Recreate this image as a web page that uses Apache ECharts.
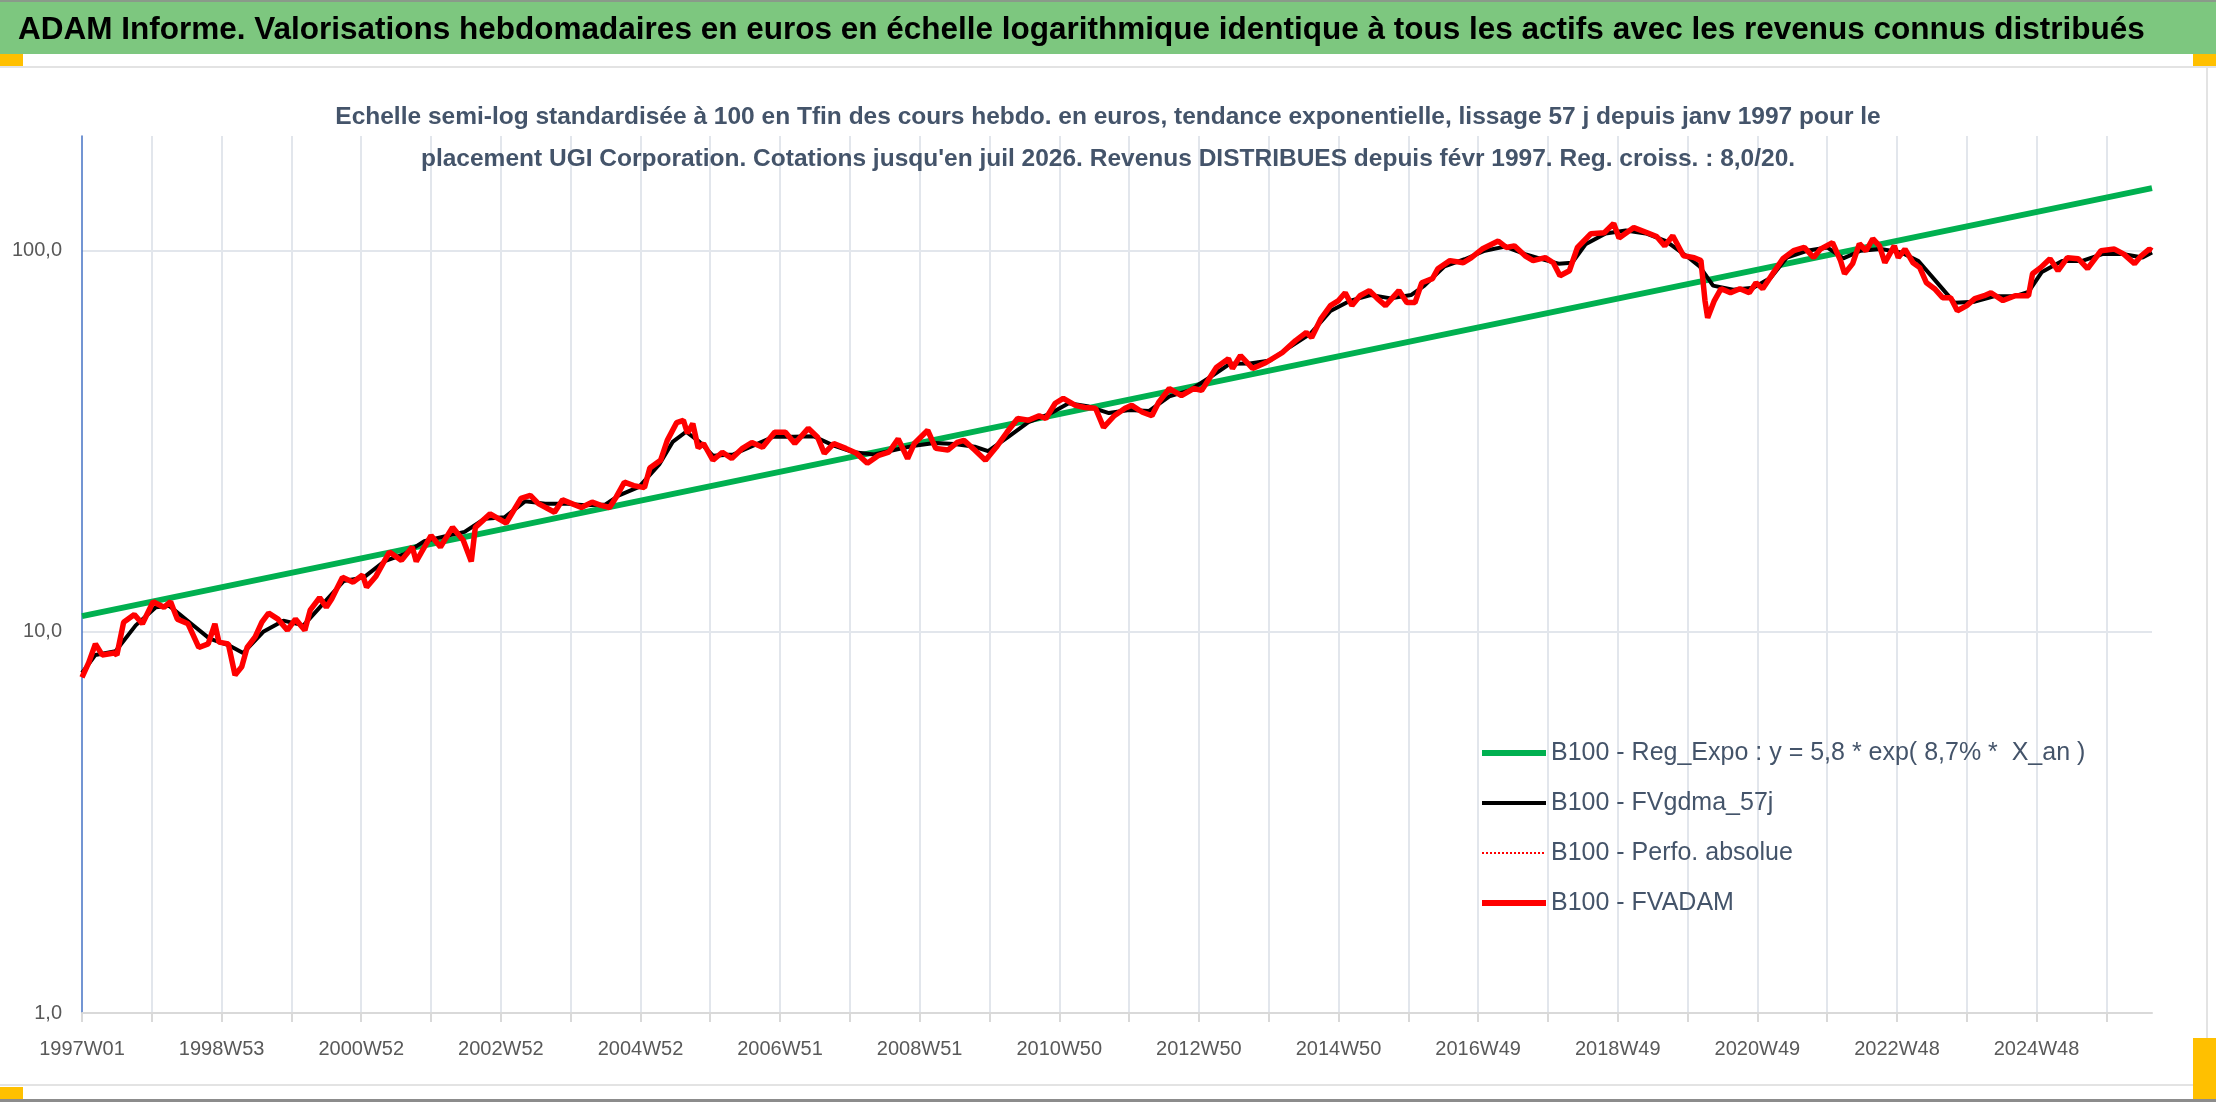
<!DOCTYPE html>
<html>
<head>
<meta charset="utf-8">
<script src="https://cdn.jsdelivr.net/npm/echarts@6/dist/echarts.min.js"></script>
<style>
html,body{margin:0;padding:0;background:#fff;}
#main{width:2216px;height:1102px;}
</style>
</head>
<body>
<div id="main"></div>
<script>
// semaines ISO de 53 semaines entre 1997 et 2026
var longYears = [1998, 2004, 2009, 2015, 2020, 2026];
var firstYear = 1997;
var nbWeeks = 1543; // 1997W01 -> 2026W30

var titleText = 'ADAM Informe. Valorisations hebdomadaires en euros en échelle logarithmique identique à tous les actifs avec les revenus connus distribués';
var subText = "Echelle semi-log standardisée à 100 en Tfin des cours hebdo. en euros, tendance exponentielle, lissage 57 j depuis janv 1997 pour le\nplacement UGI Corporation. Cotations jusqu'en juil 2026. Revenus DISTRIBUES depuis févr 1997. Reg. croiss. : 8,0/20.";

var legendNames = [
	'B100 - Reg_Expo : y = 5,8 * exp( 8,7% *  X_an )',
	'B100 - FVgdma_57j',
	'B100 - Perfo. absolue',
	'B100 - FVADAM'
];

// droite de regression (exponentielle) : deux extremites
var regExpo = [[0, 11.0], [1542, 146]];

// FVADAM : [index semaine, valeur base 100]
var fvadam = [
	[0,7.6],[5,8.3],[10,9.3],[15,8.7],[24,8.8],[26,8.7],[31,10.6],[39,11.1],[45,10.5],[53,12.0],
	[61,11.6],[66,12.0],[71,10.8],[79,10.5],[87,9.1],[94,9.3],[99,10.5],[102,9.4],[109,9.3],[114,7.7],
	[119,8.1],[123,9.1],[129,9.7],[134,10.6],[139,11.2],[146,10.8],[153,10.1],[159,10.8],[166,10.1],[170,11.4],
	[177,12.3],[182,11.6],[186,12.2],[194,13.9],[202,13.5],[209,14.1],[212,13.1],[219,14.0],[229,16.2],[238,15.4],
	[246,16.7],[249,15.3],[260,17.9],[267,16.7],[276,18.8],[284,17.4],[290,15.3],[293,18.8],[304,20.4],[316,19.3],
	[327,22.4],[334,22.8],[340,21.7],[352,20.6],[358,22.2],[372,21.2],[380,21.9],[386,21.5],[393,21.2],[398,22.6],
	[404,24.7],[411,24.2],[419,23.9],[423,26.9],[431,28.2],[436,31.8],[443,35.4],[448,35.9],[451,33.2],[455,35.2],
	[459,30.4],[463,31.2],[470,28.2],[477,29.6],[484,28.5],[492,30.3],[499,31.4],[507,30.5],[516,33.4],[524,33.4],
	[531,31.2],[541,34.2],[548,32.4],[553,29.4],[560,31.2],[569,30.3],[577,29.4],[585,27.7],[593,29.0],[601,29.6],
	[608,32.1],[615,28.5],[620,31.2],[630,33.8],[636,30.3],[645,30.0],[652,31.4],[657,31.8],[665,30.0],[673,28.2],
	[681,30.5],[689,33.4],[697,36.3],[705,35.9],[713,36.9],[718,36.3],[725,39.8],[731,41.0],[740,39.3],[747,38.8],
	[755,38.6],[761,34.4],[769,36.9],[777,38.6],[782,39.3],[790,37.7],[797,36.9],[802,40.0],[810,43.5],[819,41.7],
	[828,43.5],[834,43.0],[845,49.4],[854,52.1],[857,49.1],[863,53.1],[872,49.1],[882,50.9],[894,54.0],[904,58.1],
	[912,61.0],[916,59.2],[923,66.4],[930,71.8],[936,74.0],[941,77.6],[946,71.8],[952,76.2],[959,78.6],[965,74.9],
	[971,71.8],[981,78.6],[987,73.1],[993,73.1],[998,82.4],[1006,84.5],[1010,89.7],[1019,94.2],[1029,93.0],[1035,95.9],
	[1043,101],[1055,106],[1061,102],[1067,103],[1075,97],[1081,94.2],[1090,95.9],[1096,93.0],[1101,86.0],[1108,88.6],
	[1114,102],[1124,110.8],[1134,111.5],[1141,118],[1145,108],[1156,115],[1166,111.5],[1173,109],[1179,103],[1185,109.5],
	[1193,97],[1201,95.9],[1206,94.2],[1209,74],[1211,66.7],[1216,74],[1221,79.5],[1228,77.6],[1235,79.5],[1242,77.6],
	[1247,82.4],[1252,79.5],[1260,87.6],[1267,95.3],[1275,100],[1283,102],[1290,95.9],[1295,101],[1304,105],[1310,94.2],
	[1313,87],[1319,92.5],[1324,104.3],[1329,100],[1334,107.5],[1339,103],[1343,93],[1350,103],[1353,95.9],[1358,101],
	[1364,93],[1369,90.3],[1374,82.4],[1380,79.5],[1386,75.3],[1392,75.3],[1397,69.6],[1404,71.8],[1410,74.9],[1417,76.2],
	[1422,77.6],[1431,74],[1440,76.2],[1450,76.2],[1453,87],[1459,90.3],[1466,95.3],[1472,88.6],[1479,95.9],[1487,95.3],
	[1494,89.7],[1504,100],[1514,101],[1521,98],[1529,92.5],[1534,97],[1540,101],[1542,100]
];

// moyenne mobile lissee 57 j
var fvgdma = [
	[0,7.8],[10,8.7],[25,8.9],[40,10.4],[55,11.6],[65,11.7],[80,10.6],[95,9.6],[110,9.2],[120,8.8],
	[135,10.0],[150,10.7],[165,10.4],[180,11.9],[195,13.6],[210,13.9],[225,15.3],[240,16.0],[255,17.3],[270,17.8],
	[285,18.3],[300,19.8],[315,20.0],[330,22.0],[345,21.7],[360,21.7],[375,21.5],[390,21.6],[400,22.8],[415,24.0],
	[430,27.5],[440,31.5],[450,33.5],[460,31.5],[470,29.0],[485,29.2],[500,30.8],[515,32.5],[530,32.5],[545,32.6],
	[560,30.8],[575,29.6],[590,29.2],[605,30.0],[620,30.8],[635,31.3],[650,31.1],[665,30.6],[675,29.8],[690,32.5],
	[705,35.5],[720,37.2],[735,39.8],[750,39.0],[765,37.5],[780,38.2],[795,38.0],[810,41.5],[825,43.0],[840,46.5],
	[855,50.5],[870,50.6],[885,51.5],[900,56.0],[915,60.5],[930,69.5],[945,74.0],[960,76.5],[975,75.0],[990,76.5],
	[1000,81],[1015,91],[1030,95],[1045,100],[1060,102.5],[1075,98],[1090,94.5],[1100,92.5],[1110,93],[1120,104],
	[1135,111],[1150,113],[1165,111],[1180,106],[1195,97],[1205,91],[1215,81],[1230,79],[1245,80],[1258,85],
	[1270,96],[1285,100],[1300,102],[1312,95.5],[1325,100],[1340,101],[1355,99],[1368,94],[1380,84],[1395,73],
	[1410,73.5],[1425,76],[1440,76],[1450,78],[1460,88],[1475,94],[1490,94],[1505,98],[1520,98],[1535,96],[1542,99]
];

function buildWeeks(){
	var weeks = [];
	var y = firstYear;
	while (weeks.length < nbWeeks){
		var n = longYears.indexOf(y) >= 0 ? 53 : 52;
		for (var w = 1; w <= n && weeks.length < nbWeeks; w++){
			weeks.push(y + 'W' + (w < 10 ? '0' + w : w));
		}
		y++;
	}
	return weeks;
}

function createOption(){
	var weeks = buildWeeks();
	var txtColor = '#44546A';
	var font = 'Liberation Sans';
	var colors = ['#00B050', '#000000', '#FF0000', '#FF0000'];
	var widths = [6, 4, 2, 6];
	return {
		animation: false,
		backgroundColor: '#ffffff',
		graphic: [
			{ type: 'rect', shape: { x: 0, y: 0, width: 2216, height: 54 }, style: { fill: '#7DC77F' }, z: -10 },
			{ type: 'rect', shape: { x: 0, y: 0, width: 2216, height: 2 }, style: { fill: '#8A9A8A' }, z: -9 },
			{ type: 'rect', shape: { x: 0, y: 66, width: 2216, height: 2 }, style: { fill: '#E3E3E3' }, z: -9 },
			{ type: 'rect', shape: { x: 0, y: 1084, width: 2216, height: 2 }, style: { fill: '#E3E3E3' }, z: -9 },
			{ type: 'rect', shape: { x: 2206, y: 66, width: 2, height: 1020 }, style: { fill: '#E3E3E3' }, z: -9 },
			{ type: 'rect', shape: { x: 0, y: 1099, width: 2216, height: 3 }, style: { fill: '#8C8C8C' }, z: -9 },
			{ type: 'rect', shape: { x: 0, y: 54, width: 23, height: 12 }, style: { fill: '#FFC000' }, z: -8 },
			{ type: 'rect', shape: { x: 2193, y: 54, width: 23, height: 12 }, style: { fill: '#FFC000' }, z: -8 },
			{ type: 'rect', shape: { x: 0, y: 1087, width: 23, height: 12 }, style: { fill: '#FFC000' }, z: -8 },
			{ type: 'rect', shape: { x: 2193, y: 1038, width: 23, height: 61 }, style: { fill: '#FFC000' }, z: -8 }
		],
		title: [
			{
				text: titleText,
				left: 13,
				top: 9,
				textStyle: { fontFamily: font, fontSize: 31.5, fontWeight: 'bold', color: '#000000' }
			},
			{
				text: subText,
				left: 'center',
				top: 91,
				textStyle: { fontFamily: font, fontSize: 24.5, fontWeight: 'bold', color: txtColor, lineHeight: 42 }
			}
		],
		legend: {
			data: legendNames.map(function (n, i) {
				return { name: n, lineStyle: { width: widths[i], color: colors[i], type: i === 2 ? 'dotted' : 'solid' } };
			}),
			orient: 'vertical',
			left: 1474,
			top: 735,
			itemWidth: 64,
			itemHeight: 12,
			itemGap: 24,
			itemStyle: { opacity: 0 },
			textStyle: { fontFamily: font, fontSize: 25, color: txtColor, lineHeight: 26 }
		},
		grid: { left: 82, right: 64, top: 136, bottom: 89 },
		xAxis: {
			type: 'category',
			boundaryGap: false,
			data: weeks,
			axisLine: { lineStyle: { color: '#D9D9D9', width: 2 } },
			axisTick: {
				show: true,
				length: 9,
				interval: function (idx) { return idx % 52 === 0; },
				lineStyle: { color: '#D9D9D9', width: 2 }
			},
			axisLabel: {
				interval: function (idx) { return idx % 104 === 0; },
				margin: 26,
				fontFamily: font,
				fontSize: 20,
				color: '#595959'
			},
			splitLine: {
				show: true,
				interval: function (idx) { return idx % 52 === 0 && idx > 0; },
				lineStyle: { color: '#E2E6EC', width: 2 }
			}
		},
		yAxis: {
			type: 'log',
			logBase: 10,
			min: 1,
			max: 200,
			axisLine: { show: true, lineStyle: { color: '#4472C4', width: 1.5 } },
			axisTick: { show: false },
			splitLine: { show: true, showMaxLine: false, lineStyle: { color: '#E2E6EC', width: 2 } },
			axisLabel: {
				margin: 20,
				fontFamily: font,
				fontSize: 20,
				color: '#595959',
				formatter: function (v) {
					var l = Math.log10(v);
					if (Math.abs(l - Math.round(l)) > 1e-6) return '';
					return Math.pow(10, Math.round(l)).toFixed(1).replace('.', ',');
				}
			}
		},
		series: legendNames.map(function (n, i) {
			var d = i === 0 ? regExpo : (i === 1 ? fvgdma : fvadam);
			return {
				name: n,
				type: 'line',
				data: d,
				symbol: 'none',
				lineStyle: { color: colors[i], width: i === 3 ? 5.5 : widths[i], type: i === 2 ? 'dotted' : 'solid' },
				itemStyle: { color: colors[i] }
			};
		})
	};
}

var myChart = echarts.init(document.getElementById('main'));
myChart.setOption(createOption());
</script>
</body>
</html>
